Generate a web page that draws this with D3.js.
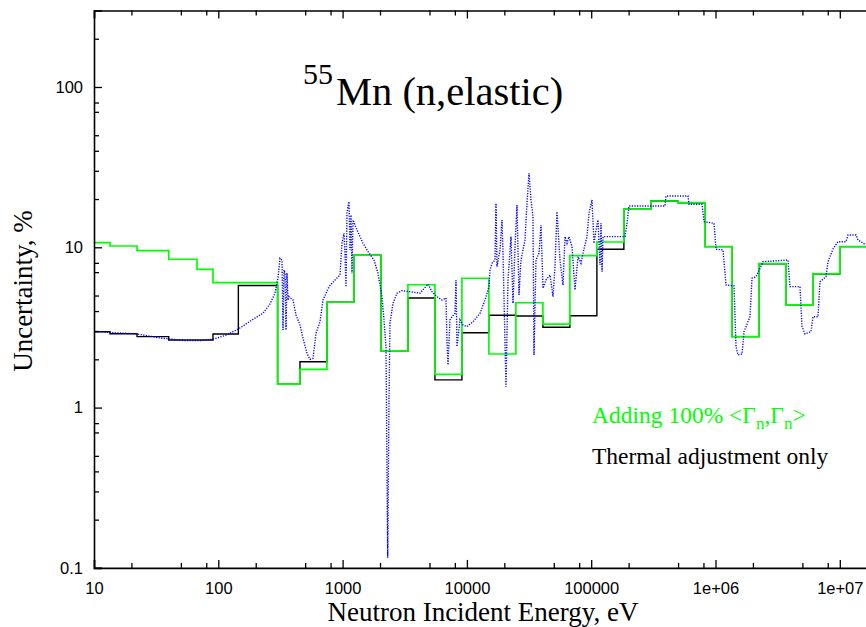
<!DOCTYPE html>
<html>
<head>
<meta charset="utf-8">
<script src="https://cdn.jsdelivr.net/npm/d3@7"></script>
<style>
  html, body { margin: 0; padding: 0; background: #fff; }
  svg { display: block; }
</style>
</head>
<body>
<svg id="chart" width="866" height="627"></svg>
<script>
// ---------------- data ----------------
const groupEdgesGreen = [10, 13.45, 22.2, 39.9, 67.4, 90.6, 300, 454, 748, 1234, 2035, 3355, 5531, 9119, 15030, 24790, 40870, 67380, 111100, 183200, 302000, 497900, 820900, 1353000, 2231000, 3679000, 6065000, 1e7, 1.6487e7];
const greenValues = [10.68, 10.19, 9.52, 8.42, 7.29, 6.02, 1.40, 1.73, 4.54, 8.92, 2.26, 5.84, 1.61, 6.41, 2.16, 4.51, 3.32, 8.86, 10.79, 17.27, 19.45, 18.98, 10.09, 2.77, 7.90, 4.37, 6.82, 10.09];

const groupEdgesBlack = [10, 13.45, 22.2, 39.9, 90.6, 145, 300, 454, 748, 1234, 2035, 3355, 5531, 9119, 15030, 24790, 40870, 67380, 111100, 183200, 302000, 497900, 820900, 1353000, 2231000, 3679000, 6065000, 1e7, 1.6487e7];
const blackValues = [2.975, 2.89, 2.77, 2.64, 2.88, 5.78, 1.40, 1.93, 4.54, 8.92, 2.26, 4.83, 1.49, 2.93, 3.77, 3.73, 3.17, 3.74, 9.72, 17.27, 19.45, 18.98, 10.09, 2.77, 7.90, 4.37, 6.82, 10.09];

const blueEnergy = [10, 13.45, 22.2, 34.0, 54.0, 71.3, 90.6, 117.5, 149.5, 190.2,
  228.9, 260.5, 285.7, 302, 313.6, 325.4, 331.5, 337.8, 344.1, 350.5,
  357, 363.7, 370.5, 399, 421.9, 454, 480.1, 517.1, 546.7, 578,
  611, 658, 695.7, 777.5, 868.7, 953, 988.8, 1026, 1045, 1065,
  1085, 1105, 1126, 1147, 1168, 1190, 1213, 1306, 1459, 1601,
  1789, 1927, 2075, 2153, 2234, 2306, 2362, 2406, 2544, 2739,
  3005, 3485, 4195, 4864, 5239, 5746, 6304, 6787, 6916, 7045,
  7311, 7588, 8023, 8173, 8325, 8802, 9303, 10020, 11200, 12750,
  13980, 15060, 15340, 15920, 16830, 17140, 17460, 18460, 19160, 19520,
  20630, 21410, 22630, 23490, 24380, 25290, 26250, 27230, 29340, 30440,
  31590, 32780, 34010, 34650, 35960, 38020, 39460, 40940, 43280, 46630,
  49280, 51140, 53050, 56100, 59320, 61550, 63870, 66280, 70070, 74070,
  78310, 82780, 85910, 92510, 96000, 101500, 105300, 109300, 113400, 117700,
  119900, 122200, 124500, 187000, 194100, 201400, 392400, 399700, 600900, 612100,
  778700, 808100, 972700, 1009500, 1149000, 1215000, 1409000, 1462000, 1517000, 1634000,
  1696000, 1895000, 1966000, 2118000, 2411000, 3830000, 3975000, 4784000, 4965000, 5248000,
  5865000, 6087000, 6676000, 6928000, 7745000, 8037000, 8816000, 9672000, 11220000, 11640000,
  13500000, 14010000, 16250000];
const blueUncertainty = [3.0, 2.94, 2.88, 2.72, 2.615, 2.615, 2.67, 2.84, 3.14, 3.555,
  3.875, 4.43, 5.17, 6.43, 8.54, 8.33, 3.05, 7.22, 6.91, 3.05,
  6.91, 4.69, 4.92, 4.69, 3.78, 3.28, 2.71, 2.18, 2.00, 2.03,
  2.91, 3.435, 4.69, 5.68, 6.25, 6.72, 10.59, 12.23, 9.21, 5.65,
  16.37, 17.92, 19.25, 9.62, 15.9, 6.88, 14.8, 12.82, 10.59, 9.39,
  8.33, 6.88, 4.92, 3.52, 2.40, 0.1158, 1.116, 3.36, 4.475, 5.17,
  5.36, 5.285, 5.17, 5.90, 5.285, 4.92, 4.69, 4.83, 2.58, 1.845,
  3.52, 3.69, 3.875, 6.25, 2.40, 3.52, 3.28, 3.20, 3.435, 3.875,
  4.69, 5.68, 7.22, 7.95, 8.33, 18.81, 7.57, 9.62, 14.8, 9.18,
  1.35, 6.25, 11.65, 4.475, 10.09, 18.36, 5.04, 8.33, 11.11, 18.9,
  28.95, 19.73, 15.52, 2.13, 8.33, 9.18, 13.78, 5.55, 6.25, 6.72,
  4.92, 7.57, 16.68, 8.33, 5.82, 11.65, 10.59, 11.65, 10.09, 5.42,
  8.74, 7.95, 9.18, 11.65, 16.3, 19.73, 10.59, 12.82, 14.8, 7.75,
  14.18, 7.04, 11.65, 11.65, 14.12, 18.1, 18.1, 20.9, 20.9, 18.55,
  18.55, 14.44, 14.12, 9.72, 9.62, 5.82, 5.74, 2.40, 2.13, 2.16,
  2.975, 3.69, 6.41, 6.55, 8.13, 8.33, 5.68, 5.68, 3.20, 2.88,
  2.975, 3.69, 3.69, 6.10, 6.55, 8.13, 9.76, 10.84, 10.84, 11.94,
  11.94, 11.11, 10.34];

const xMajorTicks = [10, 100, 1000, 10000, 100000, 1e6, 1e7];
const xTickLabels = ["10", "100", "1000", "10000", "100000", "1e+06", "1e+07"];
const xMinorMultipliers = [2, 5, 8];
const yMajorTicks = [0.1, 1, 10, 100];
const yTickLabels = ["0.1", "1", "10", "100"];
const yMinorMultipliers = [2, 3, 4, 5, 7, 8];

const titleSup = "55";
const titleMain = "Mn (n,elastic)";
const xTitle = "Neutron Incident Energy, eV";
const yTitle = "Uncertainty, %";
const legendBlack = "Thermal adjustment only";

// ---------------- layout ----------------
const svg = d3.select("#chart");
const plotLeft = 94, plotTop = 10.5, plotBottom = 567.9;
const decadeX = 124.3;
const xDomain = [10, 1.6487e7];
const yDomain = [0.1, 300];
const plotRight = plotLeft + decadeX * Math.log10(xDomain[1] / xDomain[0]);

const x = d3.scaleLog().domain(xDomain).range([plotLeft, plotRight]);
const y = d3.scaleLog().domain(yDomain).range([plotBottom, plotTop]);

svg.append("defs").append("clipPath").attr("id", "clip")
  .append("rect").attr("x", plotLeft).attr("y", plotTop)
  .attr("width", plotRight - plotLeft).attr("height", plotBottom - plotTop);

// ---------------- lines ----------------
function stepData(edges, vals) {
  const pts = edges.slice(0, vals.length).map((e, i) => [e, vals[i]]);
  pts.push([edges[vals.length], vals[vals.length - 1]]);
  return pts;
}
const stepLine = d3.line().x(d => x(d[0])).y(d => y(d[1])).curve(d3.curveStepAfter);
const plainLine = d3.line().x(d => x(d[0])).y(d => y(d[1]));

const g = svg.append("g").attr("clip-path", "url(#clip)");

g.append("path")
  .attr("d", stepLine(stepData(groupEdgesBlack, blackValues)))
  .attr("fill", "none").attr("stroke", "#000").attr("stroke-width", 1.4);

g.append("path")
  .attr("d", stepLine(stepData(groupEdgesGreen, greenValues)))
  .attr("fill", "none").attr("stroke", "#00ff00").attr("stroke-width", 1.7);

const bluePts = blueEnergy.map((e, i) => [e, blueUncertainty[i]]);
g.append("path")
  .attr("d", plainLine(bluePts))
  .attr("fill", "none").attr("stroke", "#0000ff").attr("stroke-width", 1.4)
  .attr("stroke-dasharray", "1.2,1.4");

// ---------------- axes ----------------
function minorTicks(majors, mults, domain) {
  const out = [];
  majors.concat([majors[0] / 10, majors[majors.length - 1] * 10]).forEach(m => {
    mults.forEach(k => {
      const v = m * k;
      if (v > domain[0] && v < domain[1]) out.push(v);
    });
  });
  return out;
}
const xMinor = minorTicks(xMajorTicks, xMinorMultipliers, xDomain);
const yMinor = minorTicks(yMajorTicks, yMinorMultipliers, yDomain);

const axisFont = "'Liberation Sans', Arial, sans-serif";

// bottom axis
const bAxis = svg.append("g").attr("transform", `translate(0,${plotBottom})`)
  .call(d3.axisBottom(x).tickValues(xMajorTicks).tickSize(-8).tickPadding(14)
    .tickFormat((d, i) => xTickLabels[i]));
bAxis.selectAll("text").attr("font-family", axisFont).attr("font-size", 16.5).attr("fill", "#000");
svg.append("g").attr("transform", `translate(0,${plotBottom})`)
  .call(d3.axisBottom(x).tickValues(xMinor).tickSize(-5).tickFormat(""))
  .call(s => s.select(".domain").remove());

// top axis
svg.append("g").attr("transform", `translate(0,${plotTop})`)
  .call(d3.axisTop(x).tickValues(xMajorTicks).tickSize(-8).tickFormat(""));
svg.append("g").attr("transform", `translate(0,${plotTop})`)
  .call(d3.axisTop(x).tickValues(xMinor).tickSize(-5).tickFormat(""))
  .call(s => s.select(".domain").remove());

// left axis
const lAxis = svg.append("g").attr("transform", `translate(${plotLeft},0)`)
  .call(d3.axisLeft(y).tickValues(yMajorTicks).tickSize(-8).tickPadding(11)
    .tickFormat((d, i) => yTickLabels[i]));
lAxis.selectAll("text").attr("font-family", axisFont).attr("font-size", 16.5).attr("fill", "#000");
svg.append("g").attr("transform", `translate(${plotLeft},0)`)
  .call(d3.axisLeft(y).tickValues(yMinor).tickSize(-5).tickFormat(""))
  .call(s => s.select(".domain").remove());

svg.selectAll(".domain").attr("stroke", "#000").attr("stroke-width", 1.6);
svg.selectAll(".tick line").attr("stroke", "#000").attr("stroke-width", 1.3);

// ---------------- texts ----------------
const serif = "'Liberation Serif', 'Times New Roman', serif";

svg.append("text").attr("x", 303).attr("y", 83.5)
  .attr("font-family", serif).attr("font-size", 30).text(titleSup);
svg.append("text").attr("x", 336).attr("y", 105)
  .attr("font-family", serif).attr("font-size", 40.5).text(titleMain);

svg.append("text")
  .attr("x", 483).attr("y", 621)
  .attr("text-anchor", "middle")
  .attr("font-family", serif).attr("font-size", 27).text(xTitle);

svg.append("text")
  .attr("transform", `translate(32,291) rotate(-90)`)
  .attr("text-anchor", "middle")
  .attr("font-family", serif).attr("font-size", 27).text(yTitle);

const lg = svg.append("text").attr("x", 592).attr("y", 423)
  .attr("font-family", serif).attr("font-size", 23.5).attr("fill", "#00ff00");
lg.append("tspan").text("Adding 100% <\u0393");
lg.append("tspan").attr("font-size", 17).attr("dy", 6).text("n");
lg.append("tspan").attr("dy", -6).text(",\u0393");
lg.append("tspan").attr("font-size", 17).attr("dy", 6).text("n");
lg.append("tspan").attr("dy", -6).text(">");

svg.append("text").attr("x", 592).attr("y", 464)
  .attr("font-family", serif).attr("font-size", 23.5).attr("fill", "#000")
  .text(legendBlack);
</script>
</body>
</html>
